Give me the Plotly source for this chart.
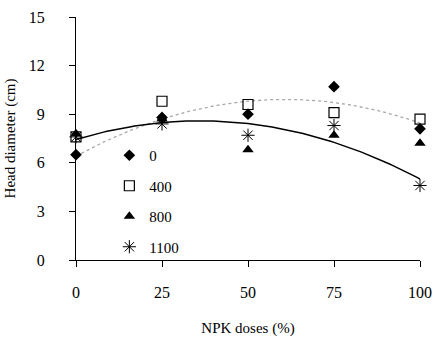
import numpy as np
import plotly.graph_objects as go

npk_doses = [0, 25, 50, 75, 100]
series_names = ["0", "400", "800", "1100"]
head_0 = [6.5, 8.8, 9.0, 10.7, 8.1]
head_400 = [7.6, 9.8, 9.6, 9.1, 8.7]
head_800 = [7.8, 8.7, 6.8, 7.7, 7.2]
head_1100 = [7.6, 8.4, 7.7, 8.3, 4.6]
x_ticks = [0, 25, 50, 75, 100]
y_ticks = [0, 3, 6, 9, 12, 15]

font_family = "Liberation Serif, Times New Roman, serif"

fig = go.Figure()

# Quadratic trend lines fitted to series "0" (dotted) and "1100" (solid)
xs = np.linspace(0, 100, 101)
c0 = np.polyfit(npk_doses, head_0, 2)
c1100 = np.polyfit(npk_doses, head_1100, 2)
fig.add_trace(go.Scatter(x=xs, y=np.polyval(c0, xs), mode="lines",
                         line=dict(color="#a8a8a8", width=1.3, dash="dot"),
                         showlegend=False, hoverinfo="skip"))
fig.add_trace(go.Scatter(x=xs, y=np.polyval(c1100, xs), mode="lines",
                         line=dict(color="black", width=1.5),
                         showlegend=False, hoverinfo="skip"))

styles = [
    dict(symbol="diamond", size=9, color="black", line=dict(color="black", width=0)),
    dict(symbol="square-open", size=10, color="black", line=dict(color="black", width=1.2)),
    dict(symbol="triangle-up", size=10, color="black", line=dict(color="black", width=0)),
    dict(symbol="asterisk-open", size=11, color="black", line=dict(color="black", width=1)),
]
for name, vals, st in zip(series_names, [head_0, head_400, head_800, head_1100], styles):
    fig.add_trace(go.Scatter(x=npk_doses, y=vals, mode="markers", name=name,
                             legendgroup=name, marker=st, cliponaxis=False))

fig.update_layout(
    width=433, height=340,
    margin=dict(l=76, r=13, t=17, b=80),
    paper_bgcolor="white", plot_bgcolor="white",
    font=dict(family=font_family, size=16, color="black"),
    legend=dict(x=0.097, y=0.498, xanchor="left", yanchor="top",
                bgcolor="rgba(0,0,0,0)", tracegroupgap=8,
                font=dict(family=font_family, size=15, color="black"), itemwidth=30),
    showlegend=True,
)
fig.update_xaxes(range=[0, 100], tickvals=x_ticks, ticktext=[str(v) for v in x_ticks],
                 showline=True, linecolor="black", linewidth=1, ticks="outside",
                 ticklen=6, tickcolor="black", showgrid=False, zeroline=False,
                 automargin=False, ticklabelstandoff=12,
                 tickfont=dict(family=font_family, size=16, color="black"),
                 title=dict(text="NPK doses (%)", standoff=22,
                            font=dict(family=font_family, size=15, color="black")))
fig.update_yaxes(range=[0, 15], tickvals=y_ticks, ticktext=[str(v) for v in y_ticks],
                 showline=True, linecolor="black", linewidth=1, ticks="outside",
                 ticklen=6, tickcolor="black", showgrid=False, zeroline=False,
                 automargin=False, ticklabelstandoff=21,
                 tickfont=dict(family=font_family, size=16, color="black"),
                 title=dict(text="Head diameter (cm)", standoff=9,
                            font=dict(family=font_family, size=15, color="black")))

# Remove the default page margin so the figure fills the 433x340 window exactly.
fig.write_html("out.html",
               config={"displayModeBar": False},
               post_script="document.body.style.margin='0';document.body.style.overflow='hidden';")
